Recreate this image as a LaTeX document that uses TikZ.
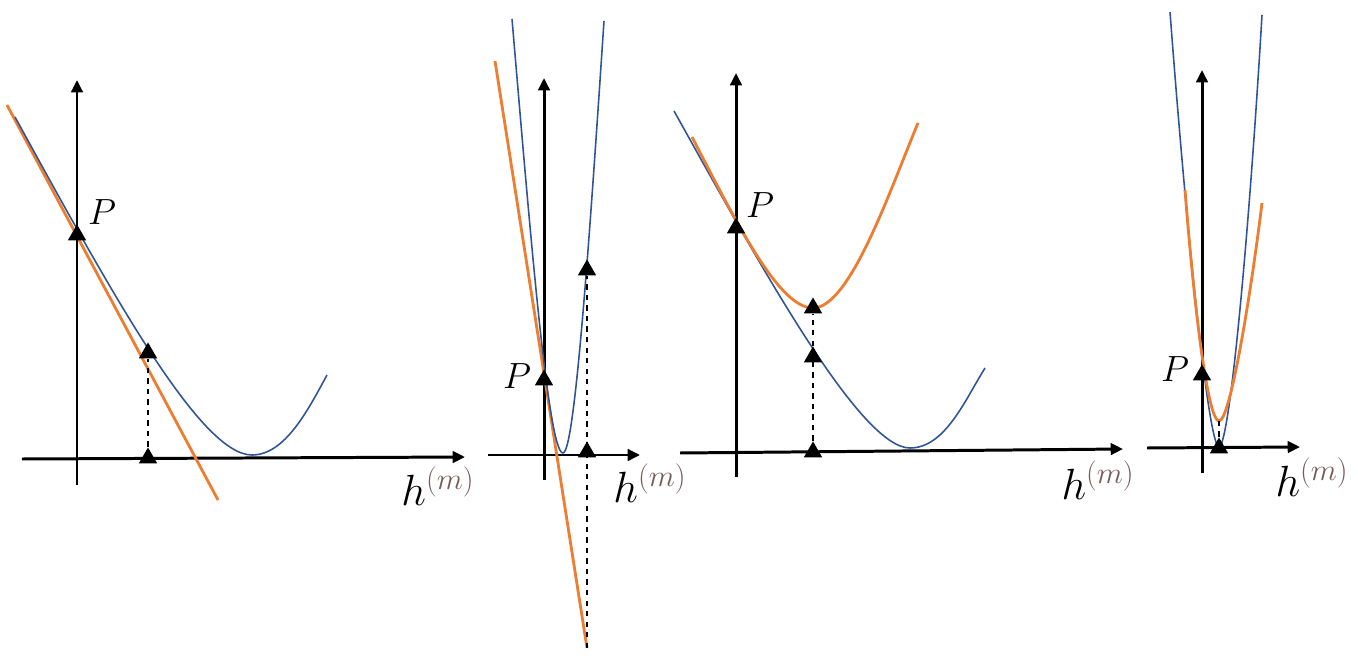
\documentclass[tikz,border=0pt]{standalone}
\usetikzlibrary{arrows.meta,shapes.geometric}
\definecolor{lossblue}{RGB}{47,85,151}
\definecolor{approxorange}{RGB}{237,125,49}
\definecolor{supbrown}{RGB}{118,92,92}

\begin{document}
\begin{tikzpicture}[x=0.02cm, y=-0.02cm, >={Triangle[length=7pt,width=6.5pt]},
  axis/.style={->, line width=1.7pt},
  loss/.style={lossblue, line width=0.9pt},
  model/.style={approxorange, line width=1.6pt},
  marker/.style={regular polygon, regular polygon sides=3, fill=black, inner sep=0pt, minimum size=12pt},
  guide/.style={dashed, line width=0.9pt},
  plbl/.style={font=\fontsize{20}{24}\selectfont},
  hlbl/.style={font=\fontsize{26}{30}\selectfont}]
  \useasboundingbox (0,0) rectangle (1358,658);

  % first-order step
  \draw[axis] (77,485) -- (77,80);
  \draw[axis] (22,459) -- (465,457);
  \draw[model] (7,105) -- (218,500);
  \draw[loss] (15,117) .. controls (110,290) and (200,455) .. (252,455)
    .. controls (285,455) and (308,410) .. (327,375);
  \node[marker] (p1) at (77,235) {};
  \node[marker] (a1) at (148,353) {};
  \node[marker] (b1) at (148,458) {};
  \draw[guide] (b1.north) -- (a1.south);
  \node[plbl] (lp1) at (102,212) {$P$};
  \node[hlbl] (h1) at (438,486) {$h^{\color{supbrown}(m)}$};

  % overshoot
  \draw[axis] (544,480) -- (544,78);
  \draw[axis] (488,455) -- (640,455);
  \draw[model] (495,61) -- (587,648);
  \draw[loss] (512,19) .. controls (530,230) and (548,453) .. (563,453)
    .. controls (575,453) and (590,230) .. (604,21);
  \coordinate (e2) at (587,648);
  \node[marker] (p2) at (544,380) {};
  \node[marker] (a2) at (587,270) {};
  \node[marker] (b2) at (587,452) {};
  \draw[guide] (e2) -- (a2.south);
  \node[plbl] (lp2) at (517,376) {$P$};
  \node[hlbl] (h2) at (650,483) {$h^{\color{supbrown}(m)}$};

  % second-order step
  \draw[axis] (736,477) -- (736,73);
  \draw[axis] (680,453) -- (1123,449);
  \draw[loss] (674,111) .. controls (760,265) and (860,448) .. (910,448)
    .. controls (945,448) and (965,400) .. (985,368);
  \draw[model] (692,137) .. controls (740,230) and (780,308) .. (813,308)
    .. controls (850,308) and (890,190) .. (918,123);
  \node[marker] (p3) at (736,228) {};
  \node[marker] (a3) at (813,308) {};
  \node[marker] (m3) at (813,357) {};
  \node[marker] (b3) at (813,452) {};
  \draw[guide] (b3.north) -- (a3.south);
  \node[plbl] (lp3) at (760,205) {$P$};
  \node[hlbl] (h3) at (1098,480) {$h^{\color{supbrown}(m)}$};

  % narrow valley
  \draw[axis] (1202,473) -- (1202,70);
  \draw[axis] (1147,448) -- (1300,447);
  \draw[loss] (1170,12) .. controls (1188,250) and (1209,447) .. (1219,447)
    .. controls (1229,447) and (1248,250) .. (1262,15);
  \draw[model] (1185,190) .. controls (1196,330) and (1209,421) .. (1219,421)
    .. controls (1230,421) and (1250,300) .. (1262,203);
  \coordinate (e4) at (1219,421);
  \node[marker] (p4) at (1202,375) {};
  \node[marker] (b4) at (1219,448) {};
  \draw[guide] (b4.north) -- (e4);
  \node[plbl] (lp4) at (1175,369) {$P$};
  \node[hlbl] (h4) at (1312,477) {$h^{\color{supbrown}(m)}$};
\end{tikzpicture}
\end{document}
